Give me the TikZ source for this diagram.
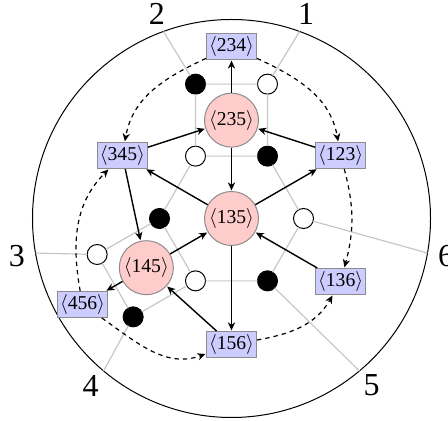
\documentclass[tikz,border=0pt]{standalone}
\usepackage{fontspec}
\setmainfont{Liberation Serif}
\usetikzlibrary{arrows.meta}
\newcommand\plk[1]{$\langle$#1$\rangle$}
\begin{document}
\begin{tikzpicture}[x=0.5pt,y=0.5pt,
  gl/.style={draw=black!22, line width=0.6pt},
  bv/.style={circle, fill=black, draw=black, minimum size=10pt, inner sep=0pt, outer sep=0pt, line width=0.5pt},
  wv/.style={circle, fill=white, draw=black, minimum size=10pt, inner sep=0pt, outer sep=0pt, line width=0.5pt},
  face/.style={circle, fill=red!20, draw=black!45, minimum size=27pt, inner sep=0pt, line width=0.5pt, font=\fontsize{9.8}{11}\selectfont},
  froz/.style={rectangle, fill=blue!20, draw=black!45, minimum width=25pt, minimum height=13pt, inner sep=0.5pt, line width=0.5pt, font=\fontsize{9.8}{11}\selectfont},
  arr/.style={-{Stealth[length=4pt,width=3.6pt,inset=1.2pt]}, line width=0.7pt, shorten >=0.3pt},
  darr/.style={arr, dash pattern=on 2.2pt off 2pt, line width=0.6pt},
  blab/.style={font=\fontsize{16}{18}\selectfont, inner sep=0pt}
]
\useasboundingbox (-231.5,-202.5) rectangle (216.5,218.5);
% outer disk
\node[circle, draw=black, line width=0.5pt, minimum size=199pt, inner sep=0pt, outer sep=0pt] (disk) at (0,0) {};
% boundary labels
\node[blab] (l1) at (70:218) {1};
\node[blab] (l2) at (110:218) {2};
\node[blab] (l3) at (190:218) {3};
\node[blab] (l4) at (230:219) {4};
\node[blab] (l5) at (310:218) {5};
\node[blab] (l6) at (350:218) {6};
% plabic vertices
\node[wv] (W2) at (120:72) {};
\node[bv] (B2) at (60:72) {};
\node[wv] (W3) at (0:72) {};
\node[bv] (B4) at (-60:72) {};
\node[wv] (W5) at (-120:72) {};
\node[bv] (B3) at (180:72) {};
\node[bv] (B1) at (105:139.09) {};
\node[wv] (W1) at (75:139.09) {};
\node[wv] (W4) at (195:139.09) {};
\node[bv] (B5) at (225:139.09) {};
% plabic edges
\draw[gl] (B1) -- (W1) (B1) -- (W2) (W1) -- (B2) (W2) -- (B2);
\draw[gl] (W2) -- (B3) (B3) -- (W5) (W5) -- (B4) (B4) -- (W3) (W3) -- (B2);
\draw[gl] (B3) -- (W4) (W4) -- (B5) (B5) -- (W5);
\draw[gl] (W1) -- (disk.70) (B1) -- (disk.110) (W4) -- (disk.190)
          (B5) -- (disk.230) (B4) -- (disk.310) (W3) -- (disk.350);
% face nodes
\node[face] (f135) at (0,0) {\plk{135}};
\node[face] (f235) at (90:98.35) {\plk{235}};
\node[face] (f145) at (210:98.35) {\plk{145}};
\node[froz] (b234) at (90:172) {\plk{234}};
\node[froz] (b456) at (210:172) {\plk{456}};
\node[froz] (b123) at (30:126) {\plk{123}};
\node[froz] (b345) at (150:126) {\plk{345}};
\node[froz] (b136) at (-30:126) {\plk{136}};
\node[froz] (b156) at (270:126) {\plk{156}};
% quiver arrows
\draw[arr] (f235) -- (b234);
\draw[arr] (f235) -- (f135);
\draw[arr] (b345) -- (f235);
\draw[arr] (b123) -- (f235);
\draw[arr] (f135) -- (b345);
\draw[arr] (f135) -- (b123);
\draw[arr] (b345) -- (f145);
\draw[arr] (f145) -- (f135);
\draw[arr] (b136) -- (f135);
\draw[arr] (f135) -- (b156);
\draw[arr] (b156) -- (f145);
\draw[arr] (f145) -- (b456);
% dashed arrows
\draw[darr] (b234) to[out=205,in=80] (b345);
\draw[darr] (b234) to[out=-25,in=100] (b123);
\draw[darr] (b456) to[out=100,in=225] (b345);
\draw[darr] (b456) to[out=325,in=200] (b156);
\draw[darr] (b123) to[out=-75,in=75] (b136);
\draw[darr] (b156) to[out=10,in=240] (b136);
\end{tikzpicture}
\end{document}
